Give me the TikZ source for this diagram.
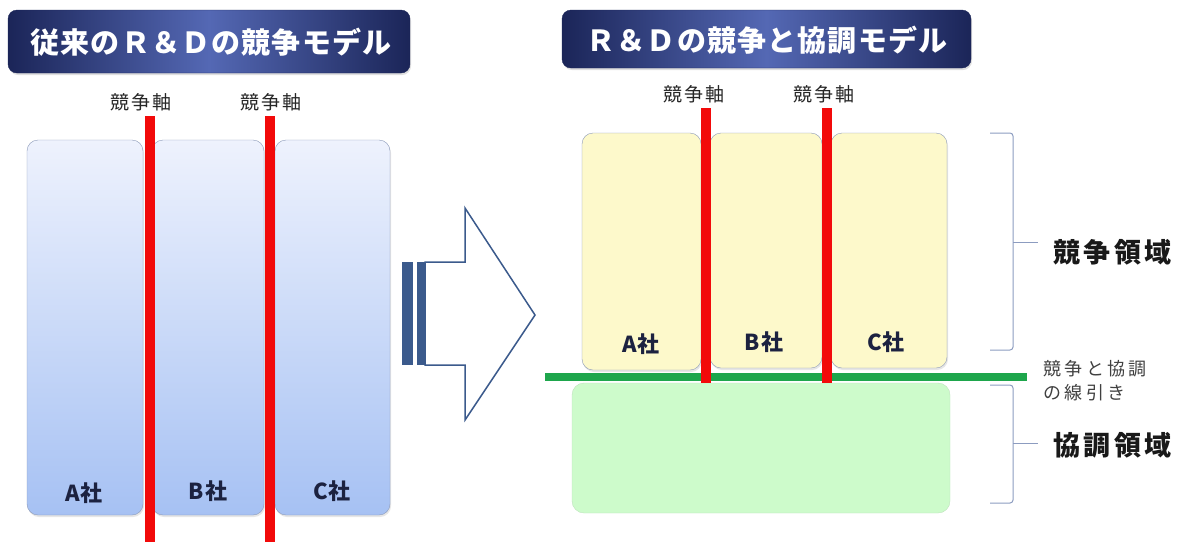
\documentclass[tikz,border=0pt]{standalone}
\usepackage{fontspec}
\setmainfont{Noto Sans CJK JP}
\usetikzlibrary{shadows}
\definecolor{navyA}{HTML}{1B2558}
\definecolor{navyB}{HTML}{5468B4}
\definecolor{blueTop}{HTML}{EEF2FD}
\definecolor{blueBot}{HTML}{A6C1F3}
\definecolor{boxline}{HTML}{8A98B8}
\definecolor{yel}{HTML}{FDF9CB}
\definecolor{grn}{HTML}{CDFBCB}
\definecolor{grnline}{HTML}{1EA64C}
\definecolor{redline}{HTML}{F20A0A}
\definecolor{arrowc}{HTML}{3B5A8C}
\definecolor{bracec}{HTML}{8C9CC0}
\definecolor{labc}{HTML}{1C2240}
\tikzset{
  x=1pt, y=-1pt,
  titlebox/.style={rounded corners=9pt, draw=navyA, left color=navyA, right color=navyA, middle color=navyB, inner sep=0pt, drop shadow={opacity=0.25, shadow xshift=1pt, shadow yshift=-2pt}},
  titletext/.style={text=white, font=\fontsize{29}{30}\selectfont\bfseries\addfontfeature{LetterSpace=4}},
  bluebox/.style={rounded corners=11pt, draw=boxline, top color=blueTop, bottom color=blueBot, inner sep=0pt, drop shadow={opacity=0.2, shadow xshift=1pt, shadow yshift=-2pt}},
  yelbox/.style={rounded corners=11pt, draw=boxline, fill=yel, inner sep=0pt, drop shadow={opacity=0.2, shadow xshift=1pt, shadow yshift=-2pt}},
  grnbox/.style={rounded corners=12pt, draw=grn!80!gray, fill=grn, inner sep=0pt},
  axisline/.style={draw=redline, line width=10pt},
  axislabel/.style={font=\fontsize{19}{20}\selectfont\addfontfeature{LetterSpace=12}, text=black!85},
  comp/.style={font=\fontsize{22}{23}\selectfont\bfseries\addfontfeature{LetterSpace=5}, text=labc},
  bracepath/.style={draw=bracec, line width=1pt, rounded corners=3pt},
  region/.style={font=\fontsize{27}{28}\selectfont\bfseries\addfontfeature{LetterSpace=12}, text=black!90, anchor=west},
  small/.style={font=\fontsize{18}{24}\selectfont\addfontfeature{LetterSpace=18}, text=black!75, anchor=west, align=left}
}
\begin{document}
\begin{tikzpicture}
\useasboundingbox (0,0) rectangle (1190,542);
% titles
\path[titlebox] (8,10) rectangle (410,73);
\node[titletext] (t1) at (211,42) {従来のＲ＆Ｄの競争モデル};
\path[titlebox] (562,10) rectangle (971,68);
\node[titletext] (t2) at (767,40) {Ｒ＆Ｄの競争と協調モデル};
% left boxes
\path[bluebox] (27,140) rectangle (143,515);
\path[bluebox] (152,140) rectangle (264,515);
\path[bluebox] (275,140) rectangle (390,515);
\node[comp] (la) at (84,493) {A社};
\node[comp] (lb) at (208,491) {B社};
\node[comp] (lc) at (332,491) {C社};
% left axes
\coordinate (l1t) at (149.5,116); \coordinate (l1b) at (149.5,542);
\coordinate (l2t) at (270,116); \coordinate (l2b) at (270,542);
\draw[axisline] (l1t) -- (l1b);
\draw[axisline] (l2t) -- (l2b);
\node[axislabel] (lx1) at (141,102) {競争軸};
\node[axislabel] (lx2) at (271,102) {競争軸};
% arrow
\fill[arrowc] (402,262) rectangle (413,365);
\fill[arrowc] (417,262) rectangle (425,365);
\draw[arrowc, line width=1.5pt, fill=white, line join=miter]
  (425,262) -- (465,262) -- (465,208) -- (535,315) -- (465,420) -- (465,365) -- (425,365) -- cycle;
% right region boxes
\path[grnbox] (572,383) rectangle (950,513);
\path[yelbox] (582,133) rectangle (701,370);
\path[yelbox] (710,133) rectangle (822,368);
\path[yelbox] (831,133) rectangle (947,368);
\node[comp] (ra) at (641,344) {A社};
\node[comp] (rb) at (764,342) {B社};
\node[comp] (rc) at (886,342) {C社};
% green line
\coordinate (g1) at (545,377); \coordinate (g2) at (1027,377);
\draw[draw=grnline, line width=8pt] (g1) -- (g2);
% right axes
\coordinate (r1t) at (706,108); \coordinate (r1b) at (706,383);
\coordinate (r2t) at (827,108); \coordinate (r2b) at (827,383);
\draw[axisline] (r1t) -- (r1b);
\draw[axisline] (r2t) -- (r2b);
\node[axislabel] (rx1) at (694,94) {競争軸};
\node[axislabel] (rx2) at (824,94) {競争軸};
% braces
\draw[bracepath] (990,133) -- (1013,133) -- (1013,350) -- (990,350);
\draw[draw=bracec, line width=1pt] (1013,242) -- (1038,242);
\draw[bracepath] (990,385) -- (1013,385) -- (1013,503) -- (990,503);
\draw[draw=bracec, line width=1pt] (1013,443) -- (1038,443);
\node[region] (kyo) at (1050,252) {競争領域};
\node[region] (coop) at (1050,445) {協調領域};
\node[small] (note) at (1040,381) {競争と協調\\の線引き};
\end{tikzpicture}
\end{document}
